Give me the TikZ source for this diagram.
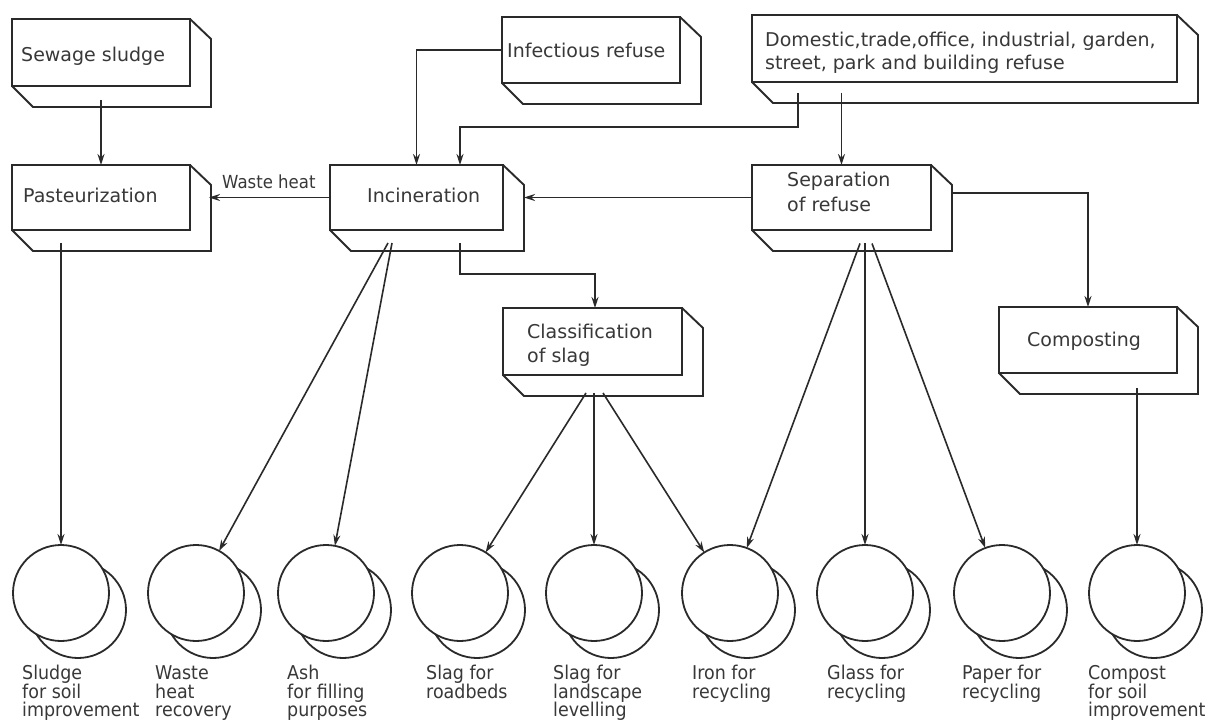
\documentclass[tikz,border=0pt]{standalone}
\usepackage{fontspec}
\setmainfont{DejaVu Sans}
\newfontfamily\lblfont[FakeStretch=0.92]{DejaVu Sans}
\usetikzlibrary{arrows.meta}
\definecolor{ink}{HTML}{2A2A2A}
\definecolor{txtc}{HTML}{383838}
\newcommand\tdbox[5]{%
  \node[fb, minimum width=#4pt, minimum height=#5pt] (#1) at (#2,#3) {};
  \draw[bk] (#1.north east) -- ++(21,20) -- ([shift={(21,21)}]#1.south east) -- ([shift={(21,21)}]#1.south west) -- (#1.south west);
}
\newcommand\dcirc[3]{%
  \node[cl] (#1b) at (#2+17,#3+17) {};
  \node[cl, fill=white] (#1) at (#2,#3) {};
}
\begin{document}
\begin{tikzpicture}[x=1pt,y=-1pt,
  fb/.style={draw=ink, line width=1.9pt, inner sep=0pt, outer sep=0pt, rectangle, fill=white},
  bk/.style={draw=ink, line width=1.9pt, line join=miter},
  cn/.style={draw=ink, line width=1.6pt, -{Stealth[length=11pt,width=7pt]}},
  cl/.style={circle, draw=ink, line width=1.8pt, minimum size=96pt, inner sep=0pt, outer sep=0pt},
  tx/.style={text=txtc, font=\fontsize{19}{24}\selectfont, inner sep=0pt, anchor=base west, align=left},
  lb/.style={tx, font=\lblfont\fontsize{19}{18.5}\selectfont}]
\useasboundingbox (0,0) rectangle (1211,722);
\fill[white] (0,0) rectangle (1211,722);

% boxes
\tdbox{sew}{101}{52.5}{178}{67}
\tdbox{past}{101}{197.5}{178}{65}
\tdbox{inc}{416.5}{197.5}{173}{65}
\tdbox{inf}{591}{50}{178}{66}
\tdbox{dom}{964.5}{48.5}{425}{67}
\tdbox{sep}{841.5}{197.5}{179}{65}
\tdbox{cls}{592.5}{341.5}{179}{67}
\tdbox{cmp}{1088}{340}{178}{66}

% box texts (base anchor = baseline of last line)
\node[tx] (tsew) at (21,62) {Sewage sludge};
\node[tx] (tpast) at (23,203) {Pasteurization};
\node[tx] (tinc) at (367,203) {Incineration};
\node[tx] (tinf) at (507,58) {Infectious refuse};
\node[tx, font=\fontsize{19}{23}\selectfont] (tdom) at (765,70) {Domestic,trade,office, industrial, garden,\\street, park and building refuse};
\node[tx, font=\fontsize{19}{25}\selectfont] (tsep) at (787,212) {Separation\\of refuse};
\node[tx] (tcls) at (527,362) {Classification\\of slag};
\node[tx] (tcmp) at (1027,346) {Composting};

% circles
\dcirc{c1}{61}{593}
\dcirc{c2}{196}{593}
\dcirc{c3}{326}{593}
\dcirc{c4}{460}{593}
\dcirc{c5}{594}{593}
\dcirc{c6}{730}{593}
\dcirc{c7}{865}{593}
\dcirc{c8}{1002}{593}
\dcirc{c9}{1137}{593}

% connectors
\draw[cn] ([shift={(0,14)}]sew.south) -- (past.north);
\draw[cn] ([shift={(0,13)}]c1 |- past.south) -- (c1);
\draw[cn] ([shift={(-28.5,13)}]inc.south) -- (c2);
\draw[cn] ([shift={(-24.5,13)}]inc.south) -- (c3);
\draw[cn] ([shift={(43.5,13)}]inc.south) -- ++(0,31) -| ([xshift=2.5pt]cls.north);
\draw[cn] (inf.west) -| (inc.north);
\draw[cn] ([shift={(-166.5,11)}]dom.south) -- ++(0,34) -| ([xshift=43.5pt]inc.north);
\draw[cn] ([shift={(0,11)}]sep.north |- dom.south) -- (sep.north);
\draw[cn] (sep.west) -- ([xshift=21pt]inc.east);
\draw[cn] (inc.west) -- ([xshift=19pt]past.east);
\node[tx, font=\lblfont\fontsize{18}{20}\selectfont] (twh) at (222,189) {Waste heat};
\draw[cn] ([shift={(21,-4.5)}]sep.east) -| (cmp.north);
\draw[cn] ([shift={(-6.5,18)}]cls.south) -- (c4);
\draw[cn] ([shift={(1.5,18)}]cls.south) -- (c5);
\draw[cn] ([shift={(10.5,18)}]cls.south) -- (c6);
\draw[cn] ([shift={(18.5,13.5)}]sep.south) -- (c6);
\draw[cn] ([shift={(23.5,13.5)}]sep.south) -- (c7);
\draw[cn] ([shift={(30.5,13.5)}]sep.south) -- (c8);
\draw[cn] ([shift={(49,15)}]cmp.south) -- (c9);

% labels (base anchor = baseline of last line)
\node[lb] (l1) at (22,716.5) {Sludge\\for soil\\improvement};
\node[lb] (l2) at (155,716.5) {Waste\\heat\\recovery};
\node[lb] (l3) at (287,716.5) {Ash\\for filling\\purposes};
\node[lb] (l4) at (426,698) {Slag for\\roadbeds};
\node[lb] (l5) at (553,716.5) {Slag for\\landscape\\levelling};
\node[lb] (l6) at (692,698) {Iron for\\recycling};
\node[lb] (l7) at (827,698) {Glass for\\recycling};
\node[lb] (l8) at (962,698) {Paper for\\recycling};
\node[lb] (l9) at (1088,716.5) {Compost\\for soil\\improvement};
\end{tikzpicture}
\end{document}
